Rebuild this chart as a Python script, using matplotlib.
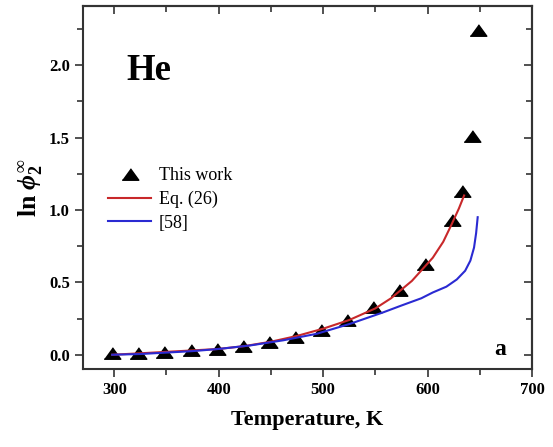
import numpy as np
import matplotlib
matplotlib.use('Agg')
import matplotlib.pyplot as plt
from matplotlib.ticker import MultipleLocator

plt.rcParams['font.family'] = 'Liberation Serif'
plt.rcParams['mathtext.fontset'] = 'custom'
plt.rcParams['mathtext.it'] = 'Liberation Serif:italic:bold'
plt.rcParams['mathtext.rm'] = 'Liberation Serif:bold'
plt.rcParams['mathtext.bf'] = 'Liberation Serif:bold'

# measured points (this work)
T_exp = [298, 323, 348, 373, 398, 423, 448, 473, 498, 523, 548, 573, 598, 623, 633, 643, 648]
ln_phi_exp = [0.01, 0.01, 0.02, 0.03, 0.04, 0.06, 0.09, 0.12, 0.17, 0.24, 0.33, 0.45, 0.63, 0.93, 1.13, 1.51, 2.24]

# Eq. (26)
T_eq = [298, 325, 350, 375, 400, 425, 450, 475, 500, 525, 550, 565, 575, 585, 595, 605, 615, 623, 630, 635]
ln_phi_eq = [0.00, 0.01, 0.02, 0.03, 0.04, 0.06, 0.09, 0.13, 0.18, 0.24, 0.32, 0.39, 0.45, 0.51, 0.59, 0.67, 0.78, 0.90, 1.01, 1.10]

# ref. [58]
T_ref = [298, 325, 350, 375, 400, 430, 462, 494, 526, 558, 575, 594, 605, 618, 628, 636, 641, 644.5, 646.5, 648]
ln_phi_ref = [0.00, 0.005, 0.015, 0.025, 0.04, 0.064, 0.10, 0.145, 0.214, 0.294, 0.34, 0.39, 0.43, 0.47, 0.52, 0.58, 0.65, 0.74, 0.84, 0.95]

fig = plt.figure(figsize=(5.53, 4.47), dpi=100)
ax = fig.add_axes([0.150, 0.174, 0.812, 0.813])

tri = [(-1.45, -1), (1.45, -1), (0, 1)]
ax.plot(T_exp, ln_phi_exp, linestyle='none', marker=tri, ms=12, color='black', label='This work')
ax.plot(T_eq, ln_phi_eq, color='#c8282a', lw=1.5, label='Eq. (26)')
ax.plot(T_ref, ln_phi_ref, color='#2a2ad2', lw=1.5, label='[58]')

ax.set_xlim(270, 700)
ax.set_ylim(-0.1, 2.41)
ax.xaxis.set_major_locator(MultipleLocator(100))
ax.xaxis.set_minor_locator(MultipleLocator(50))
ax.yaxis.set_major_locator(MultipleLocator(0.5))
ax.yaxis.set_minor_locator(MultipleLocator(0.25))
ax.tick_params(which='major', direction='out', length=6, width=1.2, labelsize=12, colors='#333333', labelcolor='black')
ax.tick_params(which='minor', direction='out', length=4, width=1.2, colors='#333333')
for lab in ax.get_xticklabels() + ax.get_yticklabels():
    lab.set_fontweight('bold')
for s in ax.spines.values():
    s.set_linewidth(1.5)
    s.set_color('#333333')

# inward ticks on top and right
top = ax.secondary_xaxis('top')
top.xaxis.set_major_locator(MultipleLocator(100))
top.xaxis.set_minor_locator(MultipleLocator(50))
top.tick_params(which='both', direction='in', labeltop=False, width=1.2, colors='#333333')
top.tick_params(which='major', length=6)
top.tick_params(which='minor', length=4)
right = ax.secondary_yaxis('right')
right.yaxis.set_major_locator(MultipleLocator(0.5))
right.yaxis.set_minor_locator(MultipleLocator(0.25))
right.tick_params(which='both', direction='in', labelright=False, width=1.2, colors='#333333')
right.tick_params(which='major', length=6)
right.tick_params(which='minor', length=4)
for sp in (top, right):
    for s in sp.spines.values():
        s.set_linewidth(1.5)
        s.set_color('#333333')

ax.set_xlabel('Temperature, K', fontsize=16, fontweight='bold', labelpad=8)
ax.set_ylabel(r'ln $\phi_2^{\infty}$', fontsize=18.5, fontweight='bold')
ax.yaxis.set_label_coords(-0.085, 0.50)

ax.text(0.096, 0.796, 'He', transform=ax.transAxes, fontsize=26.5, fontweight='bold')
ax.text(0.915, 0.04, 'a', transform=ax.transAxes, fontsize=17, fontweight='bold')

ax.legend(loc='upper left', bbox_to_anchor=(0.040, 0.575), frameon=False, fontsize=13,
          handlelength=2.4, handletextpad=0.4, labelspacing=0.36, borderaxespad=0)

fig.savefig('out.png', dpi=100)
